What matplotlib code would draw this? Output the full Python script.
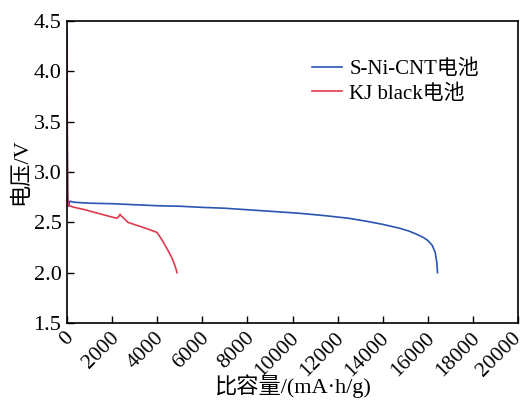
import matplotlib
matplotlib.use("Agg")
import matplotlib.pyplot as plt
import matplotlib.transforms as mtransforms

plt.rcParams['font.family'] = ['Liberation Serif', 'Noto Sans CJK SC']
plt.rcParams['mathtext.fontset'] = 'stix'

# S-Ni-CNT battery discharge curve
cnt_cap = [0, 10, 30, 60, 130, 300, 1000, 2000, 3000, 4000, 5000, 5860, 7000, 8000,
           9000, 10300, 11500, 12500, 13300, 14000, 14770, 15200, 15520, 15800,
           16000, 16200, 16330, 16400, 16430]
cnt_v = [4.41, 3.5, 2.75, 2.66, 2.71, 2.70, 2.69, 2.685, 2.675, 2.665, 2.66, 2.65, 2.64, 2.625,
         2.61, 2.59, 2.565, 2.54, 2.51, 2.48, 2.44, 2.41, 2.38, 2.35,
         2.32, 2.27, 2.2, 2.1, 2.0]

# KJ black battery discharge curve
kj_cap = [0, 10, 30, 60, 300, 710, 1200, 1700, 2210, 2300, 2350, 2420, 2480, 2700,
          3100, 3500, 3990, 4200, 4430, 4600, 4700, 4800, 4880]
kj_v = [4.23, 3.2, 2.72, 2.67, 2.65, 2.63, 2.60, 2.57, 2.54, 2.56, 2.58, 2.56, 2.55, 2.50,
        2.47, 2.44, 2.40, 2.33, 2.24, 2.17, 2.12, 2.06, 2.0]

fig = plt.figure(figsize=(5.26, 4.03), dpi=100)
ax = fig.add_axes([0.1274, 0.1985, 0.8574, 0.7494])
ax.plot(cnt_cap, cnt_v, color='#2a55b0', lw=1.2, label='S-Ni-CNT电池')
ax.plot(kj_cap, kj_v, color='#e03a4e', lw=1.2, label='KJ black电池')

ax.set_xlim(0, 20000)
ax.set_ylim(1.5, 4.5)
ax.set_xticks(range(0, 20001, 2000))
ax.set_yticks([1.5, 2.0, 2.5, 3.0, 3.5, 4.0, 4.5])
ax.set_yticklabels(['1.5', '2.0', '2.5', '3.0', '3.5', '4.0', '4.5'])
ax.tick_params(direction='in', labelsize=16, length=5, width=1.0)
ax.tick_params(axis='x', labelsize=15.5)
ax.tick_params(axis='y', pad=4)
ax.tick_params(axis='x', pad=4)
xlabels = ax.get_xticklabels()
for i, lab in enumerate(xlabels):
    dx = -4.5 if i == len(xlabels) - 1 else -2
    offset = mtransforms.ScaledTranslation(dx / 72, 0, fig.dpi_scale_trans)
    lab.set_rotation(45)
    lab.set_ha('right')
    lab.set_va('top')
    lab.set_rotation_mode('anchor')
    lab.set_transform(lab.get_transform() + offset)
ax.set_xlabel('比容量/(mA·h/g)', fontsize=16, va='center')
ax.xaxis.set_label_coords(0.5, -0.21)
ax.set_ylabel('电压/V', fontsize=16, labelpad=2)
for s in ax.spines.values():
    s.set_linewidth(1.2)
ax.legend(loc='upper left', bbox_to_anchor=(0.543, 0.873), frameon=False, fontsize=15,
          handlelength=1.45, handletextpad=0.35, labelspacing=0.25,
          borderpad=0, borderaxespad=0)
fig.savefig('out.png', dpi=100)
